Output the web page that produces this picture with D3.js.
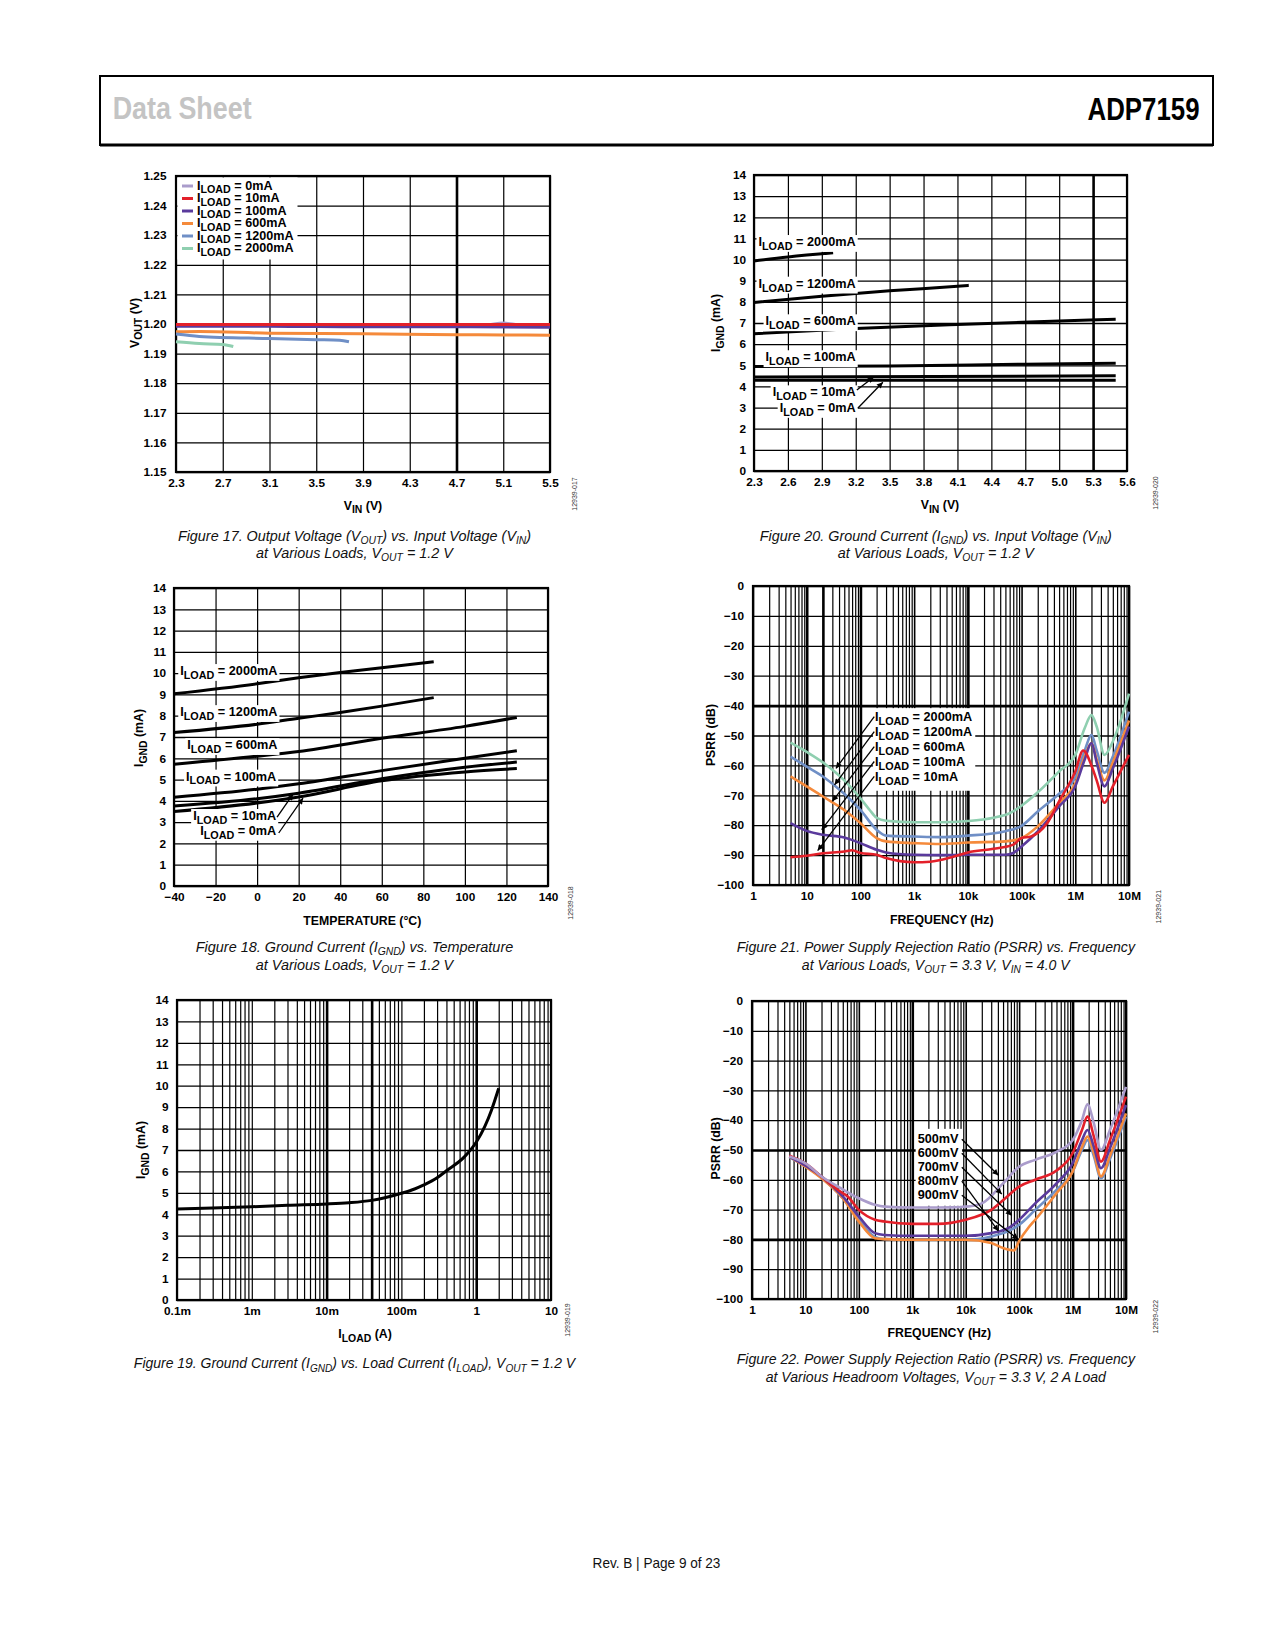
<!DOCTYPE html>
<html><head><meta charset="utf-8">
<script src="https://cdn.jsdelivr.net/npm/d3@7"></script>
<style>
body{margin:0;background:#fff}
svg text{font-family:"Liberation Sans",Arial,sans-serif}
</style>
</head><body>
<svg id="page" width="1275" height="1650"></svg>
<script>
// ===================== DATA =====================
// Figure 17: VOUT vs VIN
const fig17VinTicks = [2.3, 2.7, 3.1, 3.5, 3.9, 4.3, 4.7, 5.1, 5.5];
const fig17VoutTicks = [1.15, 1.16, 1.17, 1.18, 1.19, 1.20, 1.21, 1.22, 1.23, 1.24, 1.25];
const fig17LegendLabels = ["I_{LOAD} = 0mA", "I_{LOAD} = 10mA", "I_{LOAD} = 100mA", "I_{LOAD} = 600mA", "I_{LOAD} = 1200mA", "I_{LOAD} = 2000mA"];
const fig17Load0mA = [[2.3,1.1996],[3.1,1.1997],[3.9,1.1996],[4.7,1.1996],[4.95,1.1997],[5.1,1.2003],[5.25,1.1997],[5.5,1.1996]];
const fig17Load10mA = [[2.3,1.1998],[3.1,1.1998],[3.9,1.1998],[4.7,1.1998],[5.5,1.1998]];
const fig17Load100mA = [[2.3,1.1992],[3.1,1.1992],[3.9,1.1991],[4.7,1.1991],[5.5,1.1989]];
const fig17Load600mA = [[2.3,1.1974],[2.5,1.1975],[3.1,1.1969],[3.9,1.1967],[4.7,1.1964],[5.1,1.1963],[5.5,1.1962]];
const fig17Load1200mA = [[2.3,1.1966],[2.5,1.1958],[3.1,1.1951],[3.5,1.1947],[3.7,1.1945],[3.78,1.1940]];
const fig17Load2000mA = [[2.3,1.1940],[2.5,1.1934],[2.7,1.1931],[2.79,1.1924]];

// Figure 20: IGND vs VIN
const fig20VinTicks = [2.3, 2.6, 2.9, 3.2, 3.5, 3.8, 4.1, 4.4, 4.7, 5.0, 5.3, 5.6];
const fig20IgndTicks = [0,1,2,3,4,5,6,7,8,9,10,11,12,13,14];
const fig20Load2000mA = [[2.3,9.93],[2.6,10.12],[3.0,10.32]];
const fig20Load1200mA = [[2.3,7.97],[2.9,8.27],[3.5,8.52],[4.1,8.74],[4.2,8.78]];
const fig20Load600mA = [[2.3,6.49],[3.2,6.74],[4.1,6.93],[5.0,7.09],[5.5,7.18]];
const fig20Load100mA = [[2.3,4.94],[3.5,4.97],[4.7,5.05],[5.5,5.10]];
const fig20Load10mA = [[2.3,4.45],[5.5,4.50]];
const fig20Load0mA = [[2.3,4.29],[5.5,4.29]];
const fig20Labels = ["I_{LOAD} = 2000mA", "I_{LOAD} = 1200mA", "I_{LOAD} = 600mA", "I_{LOAD} = 100mA", "I_{LOAD} = 10mA", "I_{LOAD} = 0mA"];

// Figure 18: IGND vs temperature
const fig18TempTicks = [-40,-20,0,20,40,60,80,100,120,140];
const fig18IgndTicks = [0,1,2,3,4,5,6,7,8,9,10,11,12,13,14];
const fig18Load2000mA = [[-40,9.03],[0,9.5],[20,9.78],[40,10.03],[60,10.25],[85,10.53]];
const fig18Load1200mA = [[-40,7.21],[0,7.6],[20,7.88],[40,8.15],[60,8.45],[85,8.85]];
const fig18Load600mA = [[-40,5.72],[0,6.1],[20,6.32],[60,6.94],[100,7.5],[125,7.92]];
const fig18Load100mA = [[-40,4.17],[0,4.55],[20,4.8],[60,5.42],[100,6.0],[125,6.35]];
const fig18Load10mA = [[-40,3.76],[0,4.1],[20,4.36],[60,5.04],[100,5.58],[125,5.82]];
const fig18Load0mA = [[-40,3.5],[0,3.9],[20,4.18],[60,4.94],[100,5.36],[125,5.52]];
const fig18Labels = ["I_{LOAD} = 2000mA", "I_{LOAD} = 1200mA", "I_{LOAD} = 600mA", "I_{LOAD} = 100mA", "I_{LOAD} = 10mA", "I_{LOAD} = 0mA"];

// Figure 21: PSRR vs frequency at various loads
const fig21FreqTicks = [1,10,100,1e3,1e4,1e5,1e6,1e7];
const fig21FreqLabels = ["1","10","100","1k","10k","100k","1M","10M"];
const fig21PsrrTicks = [-100,-90,-80,-70,-60,-50,-40,-30,-20,-10,0];
const fig21Load2000mA = [[5,-52.4],[10,-55.5],[20,-59],[50,-65],[100,-71],[150,-75],[200,-77.5],[300,-78.5],[1e3,-79],[3e3,-79],[1e4,-78.6],[3e4,-77.5],[6e4,-76],[1e5,-73.5],[2e5,-69],[5e5,-62],[1e6,-56.5],[1.5e6,-47.5],[2e6,-43.2],[2.5e6,-47],[3.5e6,-56.5],[5e6,-52],[7e6,-45],[1e7,-36]];
const fig21Load1200mA = [[5,-57.1],[10,-60.4],[20,-63.7],[50,-69.5],[100,-74.9],[200,-81.5],[300,-83.5],[1e3,-83.8],[3e3,-84],[1e4,-83.5],[5e4,-82],[1e5,-80.2],[2e5,-75.4],[5e5,-69.5],[1e6,-64],[1.5e6,-55],[2e6,-49.8],[2.5e6,-55],[3.5e6,-62.5],[5e6,-57],[1e7,-42]];
const fig21Load600mA = [[5,-63.7],[10,-67],[20,-70.4],[50,-74.9],[100,-79.3],[200,-84.3],[300,-85.4],[1e3,-86],[3e3,-86.3],[1e4,-85.8],[5e4,-85.4],[1e5,-84.3],[2e5,-80.4],[5e5,-72.6],[1e6,-66],[1.5e6,-57],[2e6,-52.5],[2.5e6,-58],[3.5e6,-65],[5e6,-59],[1e7,-45]];
const fig21Load100mA = [[5,-79.3],[10,-81.9],[20,-83.2],[50,-84.1],[100,-86],[200,-88.2],[300,-89.1],[1e3,-89.9],[3e3,-90],[1e4,-89.9],[5e4,-89.9],[7e4,-89.3],[1e5,-87.1],[2e5,-82.1],[5e5,-73.7],[1e6,-67],[1.5e6,-58],[2e6,-52.5],[2.5e6,-59],[3.5e6,-67],[5e6,-61],[1e7,-47]];
const fig21Load10mA = [[5,-90.7],[10,-90.2],[20,-89.4],[50,-88.8],[70,-88.4],[100,-89.3],[200,-89.9],[300,-91],[1e3,-92.4],[2e3,-92.2],[5e3,-90.7],[1e4,-89.1],[3e4,-87.9],[7e4,-86.5],[1e5,-84.3],[1.5e5,-83.8],[3e5,-79.3],[5e5,-72],[1e6,-62],[1.4e6,-55],[2e6,-60],[2.5e6,-65],[3.5e6,-72.5],[5e6,-67],[1e7,-56.5]];
const fig21Labels = ["I_{LOAD} = 2000mA", "I_{LOAD} = 1200mA", "I_{LOAD} = 600mA", "I_{LOAD} = 100mA", "I_{LOAD} = 10mA"];

// Figure 19: IGND vs ILOAD
const fig19LoadTicks = [1e-4,1e-3,1e-2,1e-1,1,10];
const fig19LoadLabels = ["0.1m","1m","10m","100m","1","10"];
const fig19IgndTicks = [0,1,2,3,4,5,6,7,8,9,10,11,12,13,14];
const fig19Ignd = [[1e-4,4.25],[3e-4,4.29],[1e-3,4.35],[3e-3,4.42],[1e-2,4.48],[2e-2,4.54],[4e-2,4.65],[6e-2,4.77],[0.1,4.98],[0.15,5.18],[0.2,5.37],[0.3,5.7],[0.4,6.03],[0.7,6.69],[1.0,7.36],[1.3,8.09],[1.6,8.86],[2.0,9.88]];

// Figure 22: PSRR vs frequency at various headroom voltages
const fig22FreqTicks = [1,10,100,1e3,1e4,1e5,1e6,1e7];
const fig22FreqLabels = ["1","10","100","1k","10k","100k","1M","10M"];
const fig22PsrrTicks = [-100,-90,-80,-70,-60,-50,-40,-30,-20,-10,0];
const fig22Head500mV = [[5,-52.2],[10,-54.5],[20,-58.9],[50,-63.2],[100,-66.2],[200,-68.4],[300,-69],[1e3,-69.3],[3e3,-69.3],[1e4,-69],[2e4,-67.9],[5e4,-61.2],[1e5,-55.6],[2e5,-53.3],[5e5,-50.6],[1e6,-46.7],[1.5e6,-40],[1.9e6,-34.7],[2.5e6,-41],[3.4e6,-50],[5e6,-43.3],[1e7,-28.8]];
const fig22Head600mV = [[5,-51.9],[10,-54.5],[20,-58.9],[50,-64.5],[60,-65.4],[100,-70.1],[200,-73.4],[300,-74],[1e3,-74.8],[3e3,-74.8],[1e4,-73.4],[3e4,-70.1],[6e4,-65.6],[1e5,-62.3],[2e5,-60],[5e5,-56.9],[1e6,-51.1],[1.5e6,-43.3],[1.9e6,-38.8],[2.5e6,-45.5],[3.4e6,-53.9],[5e6,-46.7],[1e7,-32.1]];
const fig22Head700mV = [[5,-52.2],[20,-58.9],[50,-65.6],[100,-72.3],[200,-77.9],[300,-78.5],[1e3,-78.8],[1e4,-78.8],[3e4,-77.9],[7e4,-75.7],[1e5,-73.4],[2e5,-67.9],[5e5,-61.2],[1e6,-54.5],[1.5e6,-46.7],[1.9e6,-43.3],[2.5e6,-48.9],[3.4e6,-56.1],[5e6,-49.4],[1e7,-34.9]];
const fig22Head800mV = [[5,-52.4],[20,-59.3],[50,-66.2],[100,-73.4],[200,-79.2],[300,-79.9],[1e3,-80.1],[1e4,-80.1],[3e4,-79],[7e4,-76.8],[1e5,-75.1],[2e5,-70.1],[5e5,-63.4],[1e6,-57.3],[1.5e6,-50],[1.9e6,-46.7],[2.5e6,-52],[3.4e6,-59.5],[5e6,-53],[1e7,-38.8]];
const fig22Head900mV = [[5,-52.2],[20,-59.5],[50,-66.2],[100,-74],[200,-79.6],[300,-79.9],[1e3,-80.1],[1e4,-80.1],[3e4,-81.2],[5e4,-82.9],[8e4,-83.7],[1e5,-80.5],[1.5e5,-76],[2e5,-73.4],[5e5,-64.5],[1e6,-57.3],[1.5e6,-49],[1.9e6,-45.5],[2.5e6,-51],[3.4e6,-58.9],[5e6,-52],[1e7,-37.7]];
const fig22Labels = ["500mV","600mV","700mV","800mV","900mV"];

// Colours
const cLightPurple = "#aa9ccb", cRed = "#e3202a", cDarkPurple = "#5a3a9c", cOrange = "#f58a3b", cBlue = "#6f8fc6", cGreen = "#8fcfb0";

// ===================== DRAWING =====================
const svg = d3.select("#page");
const FONT = '"Liberation Sans",Arial,sans-serif';
const LFS = 12.7; // annotation font size
const defs = svg.append("defs");
defs.append("marker").attr("id","ah").attr("viewBox","0 0 10 10").attr("refX",10).attr("refY",5)
  .attr("markerWidth",9).attr("markerHeight",6).attr("markerUnits","userSpaceOnUse").attr("orient","auto")
  .append("path").attr("d","M0,0L10,5L0,10z").attr("fill","#000");

function rich(textSel, str, fs, subScale, subShift) {
  const parts = str.split(/(_\{[^}]*\})/).filter(p => p.length);
  let shifted = 0;
  parts.forEach(p => {
    const sub = p.startsWith("_{");
    const t = textSel.append("tspan").text(sub ? p.slice(2, -1) : p);
    if (sub) { t.attr("font-size", fs * subScale).attr("dy", fs * subShift); shifted = fs * subShift; }
    else if (shifted) { t.attr("dy", -shifted); shifted = 0; }
  });
  return textSel;
}
const near = (a, list) => list.some(v => Math.abs(a - v) <= Math.abs(v) * 1e-6 + 1e-9);

function frame(box, x, y, o) {
  const g = svg.append("g");
  const w = box.r - box.l, h = box.b - box.t;
  const gx = g.append("g").attr("transform", `translate(0,${box.b})`)
    .call(d3.axisBottom(x).tickValues(o.xGrid).tickSize(-h).tickFormat(""));
  gx.select(".domain").remove();
  gx.selectAll("line").attr("stroke", "#000").attr("stroke-width", d => near(d, o.thickX || []) ? 2.6 : (o.decadeX && near(Math.log10(d) % 1, [0]) ? 1.6 : 1.2));
  const gy = g.append("g").attr("transform", `translate(${box.l},0)`)
    .call(d3.axisLeft(y).tickValues(o.yGrid).tickSize(-w).tickFormat(""));
  gy.select(".domain").remove();
  gy.selectAll("line").attr("stroke", "#000").attr("stroke-width", d => near(d, o.thickY || []) ? 2.6 : 1.3);
  g.append("rect").attr("x", box.l).attr("y", box.t).attr("width", w).attr("height", h)
    .attr("fill", "none").attr("stroke", "#000").attr("stroke-width", 2.2);
  // tick labels
  const lx = g.append("g").attr("transform", `translate(0,${box.b})`)
    .call(d3.axisBottom(x).tickValues(o.xTicks).tickSize(0).tickPadding(7).tickFormat(o.xFmt));
  lx.select(".domain").remove();
  const ly = g.append("g").attr("transform", `translate(${box.l},0)`)
    .call(d3.axisLeft(y).tickValues(o.yTicks).tickSize(0).tickPadding(o.yPad || 8.5).tickFormat(o.yFmt));
  ly.select(".domain").remove();
  [lx, ly].forEach(a => a.attr("font-family", FONT).attr("font-size", 11.8).attr("font-weight", "bold")
    .selectAll("text").attr("fill", "#000"));
  // axis titles
  rich(g.append("text").attr("x", o.xTitle[1]).attr("y", o.xTitle[2]).attr("text-anchor", "middle")
    .attr("font-size", 12.3).attr("font-weight", "bold"), o.xTitle[0], 12.3, 0.85, 0.3);
  rich(g.append("text").attr("transform", `translate(${o.yTitle[1]},${o.yTitle[2]}) rotate(-90)`).attr("text-anchor", "middle")
    .attr("font-size", 12.3).attr("font-weight", "bold"), o.yTitle[0], 12.3, 0.85, 0.3);
  // watermark
  g.append("text").attr("transform", `translate(${o.wm[1]},${o.wm[2]}) rotate(-90)`).attr("text-anchor", "middle")
    .attr("font-size", 7).attr("fill", "#333").text(o.wm[0]);
  return g;
}

function series(g, x, y, data, color, width) {
  g.append("path").datum(data)
    .attr("d", d3.line().x(d => x(d[0])).y(d => y(d[1])).curve(d3.curveMonotoneX))
    .attr("fill", "none").attr("stroke", color).attr("stroke-width", width)
    .attr("stroke-linejoin", "round").attr("stroke-linecap", "butt");
}

function label(g, str, px, py, anchor, padX, padY) {
  const lg = g.append("g");
  const bg = lg.append("rect").attr("fill", "#fff");
  const t = rich(lg.append("text").attr("x", px).attr("y", py).attr("text-anchor", anchor)
    .attr("font-size", LFS).attr("font-weight", "bold"), str, LFS, 0.85, 0.3);
  const b = t.node().getBBox();
  bg.attr("x", b.x - padX).attr("y", b.y - padY).attr("width", b.width + 2 * padX).attr("height", b.height + 2 * padY);
  return lg;
}

// a block of labels sharing one white background
function labelBlock(g, strs, px, pys, padL, padR, padT, padB) {
  const bg = g.append("rect").attr("fill", "#fff");
  const bbs = strs.map((s, i) => rich(g.append("text").attr("x", px).attr("y", pys[i])
    .attr("font-size", LFS).attr("font-weight", "bold"), s, LFS, 0.85, 0.3).node().getBBox());
  const x0 = d3.min(bbs, b => b.x), x1 = d3.max(bbs, b => b.x + b.width);
  const y0 = d3.min(bbs, b => b.y), y1 = d3.max(bbs, b => b.y + b.height);
  bg.attr("x", x0 - padL).attr("y", y0 - padT).attr("width", x1 - x0 + padL + padR).attr("height", y1 - y0 + padT + padB);
}

function arrow(g, x1, y1, x2, y2) {
  g.append("line").attr("x1", x1).attr("y1", y1).attr("x2", x2).attr("y2", y2)
    .attr("stroke", "#000").attr("stroke-width", 1.3).attr("marker-end", "url(#ah)");
}

function logGrid(lo, hi) {
  const out = [];
  for (let e = Math.round(Math.log10(lo)); e < Math.round(Math.log10(hi)); e++)
    for (let k = 1; k <= 9; k++) out.push(k * Math.pow(10, e));
  out.push(hi);
  return out;
}

// ---------- Header ----------
svg.append("rect").attr("x", 100).attr("y", 76).attr("width", 1113).attr("height", 69)
  .attr("fill", "none").attr("stroke", "#000").attr("stroke-width", 2);
svg.append("line").attr("x1", 100).attr("x2", 1213).attr("y1", 145).attr("y2", 145).attr("stroke", "#000").attr("stroke-width", 3);
function fitText(sel, target) { const w = sel.node().getComputedTextLength(); return target / w; }
{
  const t1 = svg.append("text").attr("font-size", 31).attr("font-weight", "bold").attr("fill", "#c4c4c4").text("Data Sheet");
  const s1 = fitText(t1, 139);
  t1.attr("transform", `translate(112.7,119.3) scale(${s1},1)`);
  const t2 = svg.append("text").attr("font-size", 32).attr("font-weight", "bold").attr("fill", "#000").attr("text-anchor", "end").text("ADP7159");
  const s2 = fitText(t2, 112);
  t2.attr("transform", `translate(1199.5,120) scale(${s2},1)`);
}

// ---------- Figure 17 ----------
{
  const box = {l: 176, r: 550, t: 176, b: 472};
  const x = d3.scaleLinear().domain([2.3, 5.5]).range([box.l, box.r]);
  const y = d3.scaleLinear().domain([1.15, 1.25]).range([box.b, box.t]);
  const g = frame(box, x, y, {xGrid: fig17VinTicks, yGrid: fig17VoutTicks, thickX: [4.7], xTicks: fig17VinTicks, yTicks: fig17VoutTicks,
    xFmt: d3.format(".1f"), yFmt: d3.format(".2f"), yPad: 9.5,
    xTitle: ["V_{IN} (V)", 363, 509.5], yTitle: ["V_{OUT} (V)", 138.5, 323], wm: ["12939-017", 577, 494]});
  series(g, x, y, fig17Load600mA, cOrange, 3);
  series(g, x, y, fig17Load1200mA, cBlue, 3);
  series(g, x, y, fig17Load2000mA, cGreen, 3);
  series(g, x, y, fig17Load0mA, cLightPurple, 3);
  series(g, x, y, fig17Load100mA, cDarkPurple, 3);
  series(g, x, y, fig17Load10mA, cRed, 3);
  // legend
  const colors = [cLightPurple, cRed, cDarkPurple, cOrange, cBlue, cGreen];
  g.append("rect").attr("x", box.l + 1.5).attr("y", box.t + 1.5).attr("width", 120).attr("height", 82).attr("fill", "#fff");
  fig17LegendLabels.forEach((s, i) => {
    const yy = 186 + i * 12.5;
    g.append("line").attr("x1", 182).attr("x2", 193).attr("y1", yy).attr("y2", yy).attr("stroke", colors[i]).attr("stroke-width", 3);
    rich(g.append("text").attr("x", 197).attr("y", yy + 3.6).attr("font-size", 12.6).attr("font-weight", "bold"), s, 12.6, 0.85, 0.3);
  });
}

// ---------- Figure 20 ----------
{
  const box = {l: 754, r: 1127, t: 175, b: 471};
  const x = d3.scaleLinear().domain([2.3, 5.6]).range([box.l, box.r]);
  const y = d3.scaleLinear().domain([0, 14]).range([box.b, box.t]);
  const g = frame(box, x, y, {xGrid: fig20VinTicks, yGrid: fig20IgndTicks, thickX: [5.3], xTicks: fig20VinTicks, yTicks: fig20IgndTicks,
    xFmt: d3.format(".1f"), yFmt: d3.format("d"), yPad: 8,
    xTitle: ["V_{IN} (V)", 940, 509.3], yTitle: ["I_{GND} (mA)", 720, 323], wm: ["12939-020", 1158, 493]});
  [fig20Load2000mA, fig20Load1200mA, fig20Load600mA, fig20Load100mA, fig20Load10mA, fig20Load0mA]
    .forEach(d => series(g, x, y, d, "#000", 3));
  const ly = [10.64, 8.67, 6.89, 5.19, 3.53, 2.79];
  fig20Labels.forEach((s, i) => label(g, s, x(3.2), y(ly[i]), "end", 2, 0));
  arrow(g, x(3.21), y(3.83), x(3.36), y(4.45));
  arrow(g, x(3.22), y(2.98), x(3.44), y(4.2));
}

// ---------- Figure 18 ----------
{
  const box = {l: 174, r: 548, t: 588, b: 886};
  const x = d3.scaleLinear().domain([-40, 140]).range([box.l, box.r]);
  const y = d3.scaleLinear().domain([0, 14]).range([box.b, box.t]);
  const g = frame(box, x, y, {xGrid: fig18TempTicks, yGrid: fig18IgndTicks, xTicks: fig18TempTicks, yTicks: fig18IgndTicks,
    xFmt: d3.format("d"), yFmt: d3.format("d"), yPad: 8,
    xTitle: ["TEMPERATURE (°C)", 362.3, 925.3], yTitle: ["I_{GND} (mA)", 143, 738], wm: ["12939-018", 573, 903]});
  [fig18Load2000mA, fig18Load1200mA, fig18Load600mA, fig18Load100mA, fig18Load10mA, fig18Load0mA]
    .forEach(d => series(g, x, y, d, "#000", 3));
  const ly = [9.91, 7.98, 6.43, 4.95, 3.10, 2.40];
  const lx = [9.8, 9.8, 9.8, 9.2, 9.2, 9.2];
  fig18Labels.forEach((s, i) => label(g, s, x(lx[i]), y(ly[i]), "end", 2, 0));
  arrow(g, x(9.6), y(3.24), x(17.3), y(4.32));
  arrow(g, x(10.4), y(2.49), x(22.1), y(4.13));
}

// ---------- Figure 21 ----------
{
  const box = {l: 753, r: 1129, t: 586, b: 885};
  const x = d3.scaleLog().domain([1, 1e7]).range([box.l, box.r]);
  const y = d3.scaleLinear().domain([-100, 0]).range([box.b, box.t]);
  const g = frame(box, x, y, {xGrid: logGrid(1, 1e7), yGrid: fig21PsrrTicks, thickX: [10, 20, 100, 1e4], thickY: [-40], decadeX: true,
    xTicks: fig21FreqTicks, yTicks: fig21PsrrTicks, xFmt: (d, i) => fig21FreqLabels[i], yFmt: d3.format("d"), yPad: 9,
    xTitle: ["FREQUENCY (Hz)", 941.7, 924], yTitle: ["PSRR (dB)", 715, 735], wm: ["12939-021", 1160.7, 906.7]});
  series(g, x, y, fig21Load2000mA, cGreen, 2.6);
  series(g, x, y, fig21Load1200mA, cBlue, 2.6);
  series(g, x, y, fig21Load600mA, cOrange, 2.6);
  series(g, x, y, fig21Load100mA, cDarkPurple, 2.6);
  series(g, x, y, fig21Load10mA, cRed, 2.6);
  const tips = [[35, -61], [33, -66.5], [30, -72], [19, -81.5], [16, -88.5]];
  labelBlock(g, fig21Labels, x(187), fig21Labels.map((s, i) => y(-45.2 - 5 * i)), 2, 3, 2, 4);
  fig21Labels.forEach((s, i) => arrow(g, x(181), y(-43.7 - 5 * i), x(tips[i][0]), y(tips[i][1])));
}

// ---------- Figure 19 ----------
{
  const box = {l: 177, r: 551, t: 1000, b: 1300};
  const x = d3.scaleLog().domain([1e-4, 10]).range([box.l, box.r]);
  const y = d3.scaleLinear().domain([0, 14]).range([box.b, box.t]);
  const g = frame(box, x, y, {xGrid: logGrid(1e-4, 10), yGrid: fig19IgndTicks, thickX: [0.01, 0.04, 1], decadeX: false,
    xTicks: fig19LoadTicks, yTicks: fig19IgndTicks, xFmt: (d, i) => fig19LoadLabels[i], yFmt: d3.format("d"), yPad: 8.5,
    xTitle: ["I_{LOAD} (A)", 365, 1338], yTitle: ["I_{GND} (mA)", 145, 1150], wm: ["12939-019", 570, 1320]});
  series(g, x, y, fig19Ignd, "#000", 3);
}

// ---------- Figure 22 ----------
{
  const box = {l: 752, r: 1126, t: 1001, b: 1299};
  const x = d3.scaleLog().domain([1, 1e7]).range([box.l, box.r]);
  const y = d3.scaleLinear().domain([-100, 0]).range([box.b, box.t]);
  const g = frame(box, x, y, {xGrid: logGrid(1, 1e7), yGrid: fig22PsrrTicks, thickX: [1e3, 1e6], thickY: [-50, -80], decadeX: true,
    xTicks: fig22FreqTicks, yTicks: fig22PsrrTicks, xFmt: (d, i) => fig22FreqLabels[i], yFmt: d3.format("d"), yPad: 9,
    xTitle: ["FREQUENCY (Hz)", 939.3, 1336.7], yTitle: ["PSRR (dB)", 720, 1148.3], wm: ["12939-022", 1158, 1316.7]});
  series(g, x, y, fig22Head800mV, cBlue, 2.6);
  series(g, x, y, fig22Head900mV, cOrange, 2.6);
  series(g, x, y, fig22Head700mV, cDarkPurple, 2.6);
  series(g, x, y, fig22Head600mV, cRed, 2.6);
  series(g, x, y, fig22Head500mV, cLightPurple, 2.6);
  const tips = [[40.9e3, -58.5], [47.4e3, -64.8], [72.9e3, -72], [40.9e3, -77.2], [96.8e3, -80]];
  labelBlock(g, fig22Labels, x(1260), fig22Labels.map((s, i) => y(-47.6 - 4.69 * i)), 2, 3, 3, 4);
  fig22Labels.forEach((s, i) => arrow(g, x(8450), y(-46.4 - 4.69 * i), x(tips[i][0]), y(tips[i][1])));
}

// ---------- Captions ----------
function caption(cx, y0, lines, target) {
  const gs = lines.map((s, i) => {
    const t = rich(svg.append("text").attr("text-anchor", "middle").attr("font-family", '"Open Sans",sans-serif')
      .attr("font-style", "italic").attr("font-size", 14.5).attr("fill", "#111"), s, 14.5, 0.72, 0.22);
    return t;
  });
  const s = target / gs[0].node().getComputedTextLength();
  gs.forEach((t, i) => t.attr("transform", `translate(${cx},${y0 + i * 17.6}) scale(${s},1)`));
}
caption(354.5, 540.5, ["Figure 17. Output Voltage (V_{OUT}) vs. Input Voltage (V_{IN})", "at Various Loads, V_{OUT} = 1.2 V"], 353.5);
caption(935.8, 540.5, ["Figure 20. Ground Current (I_{GND}) vs. Input Voltage (V_{IN})", "at Various Loads, V_{OUT} = 1.2 V"], 352.4);
caption(354.5, 952, ["Figure 18. Ground Current (I_{GND}) vs. Temperature", "at Various Loads, V_{OUT} = 1.2 V"], 317.7);
caption(935.8, 952, ["Figure 21. Power Supply Rejection Ratio (PSRR) vs. Frequency", "at Various Loads, V_{OUT} = 3.3 V, V_{IN} = 4.0 V"], 398.7);
caption(354.5, 1368.4, ["Figure 19. Ground Current (I_{GND}) vs. Load Current (I_{LOAD}), V_{OUT} = 1.2 V"], 441.8);
caption(935.8, 1364, ["Figure 22. Power Supply Rejection Ratio (PSRR) vs. Frequency", "at Various Headroom Voltages, V_{OUT} = 3.3 V, 2 A Load"], 398.7);
{
  const t = svg.append("text").attr("text-anchor", "middle").attr("font-family", '"Open Sans",sans-serif')
    .attr("font-size", 14).attr("fill", "#111").text("Rev. B | Page 9 of 23");
  const s = 128 / t.node().getComputedTextLength();
  t.attr("transform", `translate(656.5,1568) scale(${s},1)`);
}
</script>
</body></html>
